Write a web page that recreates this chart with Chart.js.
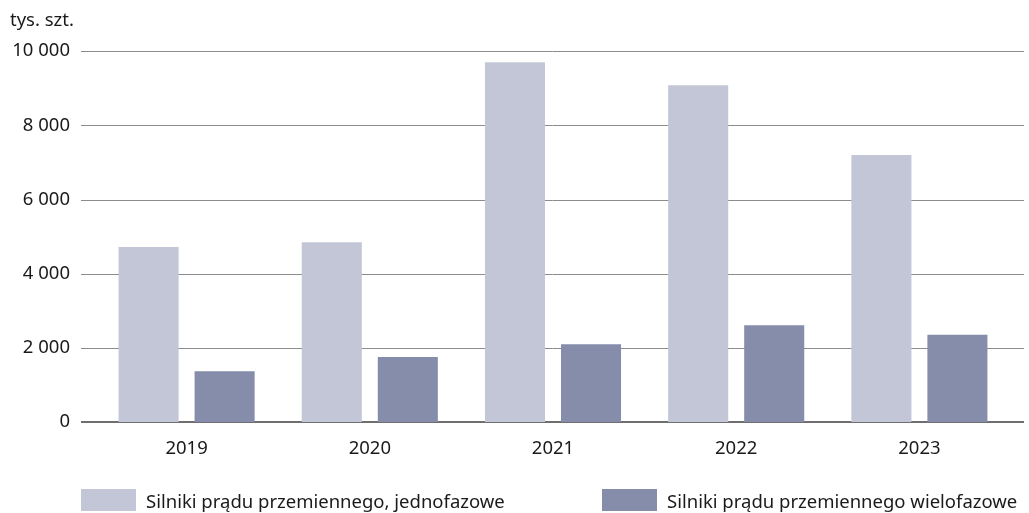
<!DOCTYPE html>
<html>
<head>
<meta charset="utf-8">
<script src="https://cdn.jsdelivr.net/npm/chart.js@4"></script>
<style>
  html, body { margin: 0; padding: 0; background: #fff; }
  #wrap { position: relative; width: 1029px; height: 513px; }
  #legend { position: absolute; left: 0; top: 489px; width: 1029px; height: 22px;
            font-family: "Noto Sans", sans-serif; font-size: 18.5px; color: #1a1a1a; }
  .item { position: absolute; top: 0; display: flex; align-items: center; white-space: nowrap; height: 22px; }
  .box { width: 55px; height: 22px; margin-right: 10px; }
</style>
</head>
<body>
<div id="wrap"><canvas id="myChart"></canvas><div id="legend"></div></div>
<script>
var years = ['2019', '2020', '2021', '2022', '2023'];
var jednofazowe = [4720, 4850, 9700, 9080, 7200];
var wielofazowe = [1370, 1750, 2100, 2610, 2350];
var yTicks = [0, 2000, 4000, 6000, 8000, 10000];
var unitLabel = 'tys. szt.';
var seriesNames = ['Silniki prądu przemiennego, jednofazowe', 'Silniki prądu przemiennego wielofazowe'];
var seriesColors = ['#c3c6d6', '#858dab'];

var FONT = '"Noto Sans", sans-serif';
var FSIZE = 18.5;

// linie siatki rysowane pod słupkami, wysunięte poza obszar wykresu
var gridBehind = {
    id: 'gridBehind',
    beforeDatasetsDraw: function (chart) {
        var ctx = chart.ctx;
        var area = chart.chartArea;
        var y = chart.scales.y;
        ctx.save();
        y.ticks.forEach(function (t) {
            var py = Math.round(y.getPixelForValue(t.value));
            ctx.beginPath();
            ctx.strokeStyle = t.value === 0 ? '#6f6f6f' : '#8c8c8c';
            ctx.lineWidth = t.value === 0 ? 2 : 1;
            var off = t.value === 0 ? 0 : 0.5;
            ctx.moveTo(area.left - 14, py + off);
            ctx.lineTo(area.right + 13, py + off);
            ctx.stroke();
        });
        ctx.restore();
    }
};

// legenda w HTML, pozycje liczone od obszaru wykresu
function buildLegend(chart) {
    var el = document.getElementById('legend');
    el.innerHTML = '';
    var area = chart.chartArea;
    var starts = [area.left - 14, area.left + 507];
    chart.data.datasets.forEach(function (ds, i) {
        var item = document.createElement('div');
        item.className = 'item';
        item.style.left = starts[i] + 'px';
        var box = document.createElement('span');
        box.className = 'box';
        box.style.background = ds.backgroundColor;
        var txt = document.createElement('span');
        txt.textContent = ds.label;
        item.appendChild(box);
        item.appendChild(txt);
        el.appendChild(item);
    });
}

document.addEventListener('DOMContentLoaded', function () {
    var ctx = document.getElementById('myChart');
    var chart = new Chart(ctx, {
        type: 'bar',
        data: {
            labels: years,
            datasets: [{
                label: seriesNames[0],
                data: jednofazowe,
                backgroundColor: seriesColors[0],
                barPercentage: 0.79,
                categoryPercentage: 0.83
            }, {
                label: seriesNames[1],
                data: wielofazowe,
                backgroundColor: seriesColors[1],
                barPercentage: 0.79,
                categoryPercentage: 0.83
            }]
        },
        options: {
            responsive: true,
            maintainAspectRatio: false,
            animation: false,
            layout: { padding: { left: 10, right: 18, top: 0, bottom: 46 } },
            scales: {
                x: {
                    afterFit: function (s) { s.height = 45; },
                    grid: { display: false },
                    border: { display: false },
                    ticks: {
                        font: { family: FONT, size: FSIZE },
                        color: '#1a1a1a',
                        padding: 8
                    }
                },
                y: {
                    min: 0,
                    max: 10000,
                    afterFit: function (s) { s.width = 85; },
                    afterBuildTicks: function (s) {
                        s.ticks = yTicks.map(function (v) { return { value: v }; });
                    },
                    grid: { display: false, drawTicks: false },
                    border: { display: false },
                    ticks: {
                        font: { family: FONT, size: FSIZE },
                        color: '#1a1a1a',
                        padding: 25,
                        callback: function (v) {
                            return String(v).replace(/\B(?=(\d{3})+(?!\d))/g, ' ');
                        }
                    }
                }
            },
            plugins: {
                title: {
                    display: true,
                    text: unitLabel,
                    align: 'start',
                    color: '#1a1a1a',
                    font: { family: FONT, size: FSIZE, weight: 'normal' },
                    padding: { top: 10, bottom: 19 }
                },
                legend: { display: false },
                tooltip: { enabled: false }
            }
        },
        plugins: [gridBehind]
    });
    buildLegend(chart);
});
</script>
</body>
</html>
